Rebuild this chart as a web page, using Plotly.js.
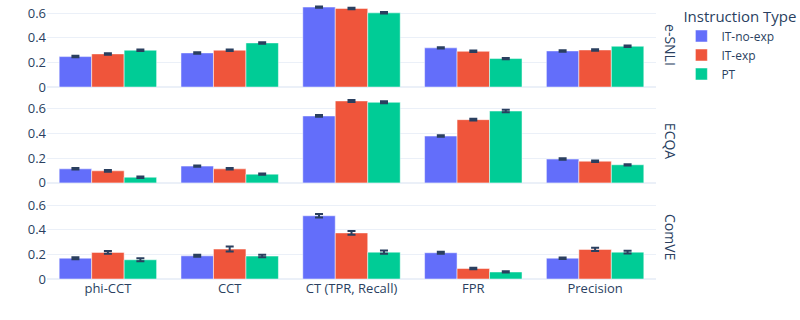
<!DOCTYPE html>
<html>
<head>
<meta charset="utf-8">
<script src="https://cdn.plot.ly/plotly-3.0.1.min.js"></script>
<style>
  body { margin: 0; }
  #myDiv { width: 800px; height: 320px; }
</style>
</head>
<body>
<div id="myDiv"></div>
<script>
var categories = ['phi-CCT', 'CCT', 'CT (TPR, Recall)', 'FPR', 'Precision'];
var datasets = ['e-SNLI', 'ECQA', 'ComVE'];
var types = ['IT-no-exp', 'IT-exp', 'PT'];
var colors = ['#636efa', '#EF553B', '#00cc96'];

// e-SNLI
var snliNoExp = [0.247, 0.277, 0.649, 0.318, 0.293];
var snliExp   = [0.269, 0.299, 0.638, 0.290, 0.301];
var snliPT    = [0.299, 0.358, 0.602, 0.231, 0.331];
var snliNoExpErr = [0.006, 0.006, 0.005, 0.005, 0.006];
var snliExpErr   = [0.006, 0.006, 0.006, 0.006, 0.006];
var snliPTErr    = [0.006, 0.006, 0.006, 0.005, 0.006];

// ECQA
var ecqaNoExp = [0.114, 0.136, 0.543, 0.380, 0.193];
var ecqaExp   = [0.098, 0.114, 0.665, 0.513, 0.176];
var ecqaPT    = [0.046, 0.071, 0.654, 0.583, 0.147];
var ecqaNoExpErr = [0.006, 0.006, 0.007, 0.006, 0.006];
var ecqaExpErr   = [0.007, 0.006, 0.008, 0.007, 0.006];
var ecqaPTErr    = [0.006, 0.006, 0.008, 0.010, 0.005];

// ComVE
var comveNoExp = [0.169, 0.188, 0.513, 0.213, 0.169];
var comveExp   = [0.216, 0.243, 0.374, 0.085, 0.240];
var comvePT    = [0.156, 0.186, 0.218, 0.057, 0.218];
var comveNoExpErr = [0.008, 0.008, 0.015, 0.008, 0.006];
var comveExpErr   = [0.012, 0.020, 0.015, 0.006, 0.013];
var comvePTErr    = [0.012, 0.010, 0.013, 0.005, 0.012];

var values = [
  [snliNoExp, snliExp, snliPT],
  [ecqaNoExp, ecqaExp, ecqaPT],
  [comveNoExp, comveExp, comvePT]
];
var errors = [
  [snliNoExpErr, snliExpErr, snliPTErr],
  [ecqaNoExpErr, ecqaExpErr, ecqaPTErr],
  [comveNoExpErr, comveExpErr, comvePTErr]
];

var data = [];
for (var r = 0; r < datasets.length; r++) {
  var ax = r === 0 ? '' : String(r + 1);
  for (var t = 0; t < types.length; t++) {
    data.push({
      type: 'bar',
      x: categories,
      y: values[r][t],
      name: types[t],
      legendgroup: types[t],
      showlegend: r === 0,
      xaxis: 'x' + ax,
      yaxis: 'y' + ax,
      marker: { color: colors[t], line: { color: 'white', width: 0.5 } },
      error_y: { type: 'data', array: errors[r][t], color: '#2a3f5f', thickness: 2, width: 4 }
    });
  }
}

var gridc = '#EBF0F8';
var yBase = { range: [0, 0.69], tickvals: [0, 0.2, 0.4, 0.6], ticktext: ['0', '0.2', '0.4', '0.6'],
  gridcolor: gridc, zerolinecolor: gridc, zerolinewidth: 2, showline: false };
function yax(dom, anchor) {
  var o = Object.assign({}, yBase);
  o.domain = dom; o.anchor = anchor;
  return o;
}
var xBase = { type: 'category', gridcolor: gridc, showgrid: false, showline: false };
function xax(anchor, showLabels) {
  var o = Object.assign({}, xBase);
  o.anchor = anchor; o.showticklabels = showLabels; o.domain = [0, 1];
  if (anchor !== 'y3') o.matches = 'x3';
  return o;
}

var layout = {
  width: 800, height: 320,
  margin: { l: 47, r: 143, t: 2, b: 41 },
  paper_bgcolor: 'white', plot_bgcolor: 'white',
  font: { family: '"Open Sans", Arial, sans-serif', size: 13, color: '#2a3f5f' },
  barmode: 'group', bargap: 0.2, bargroupgap: 0,
  legend: {
    title: { text: 'Instruction Type', font: { size: 15 } },
    x: 1.04, y: 1, xanchor: 'left', yanchor: 'top',
    font: { size: 12 }, tracegroupgap: 0
  },
  xaxis: xax('y', false),
  xaxis2: xax('y2', false),
  xaxis3: xax('y3', true),
  yaxis: yax([0.693, 1], 'x'),
  yaxis2: yax([0.347, 0.654], 'x2'),
  yaxis3: yax([0, 0.307], 'x3'),
  annotations: [
    { text: datasets[0], xref: 'paper', yref: 'paper', x: 1, y: 0.8465, xanchor: 'left', yanchor: 'middle', xshift: 3, textangle: 90, showarrow: false, font: { size: 14 } },
    { text: datasets[1], xref: 'paper', yref: 'paper', x: 1, y: 0.5005, xanchor: 'left', yanchor: 'middle', xshift: 3, textangle: 90, showarrow: false, font: { size: 14 } },
    { text: datasets[2], xref: 'paper', yref: 'paper', x: 1, y: 0.1535, xanchor: 'left', yanchor: 'middle', xshift: 3, textangle: 90, showarrow: false, font: { size: 14 } }
  ]
};

Plotly.newPlot('myDiv', data, layout, { displayModeBar: false });
</script>
</body>
</html>
